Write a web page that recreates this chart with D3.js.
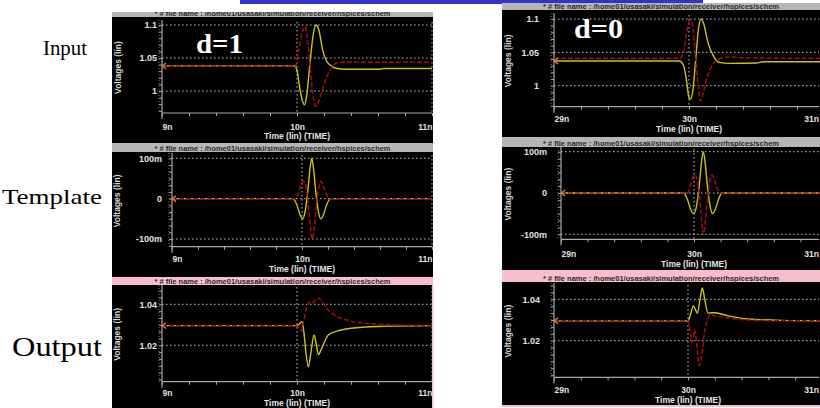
<!DOCTYPE html>
<html>
<head>
<meta charset="utf-8">
<script src="https://cdn.jsdelivr.net/npm/d3@7"></script>
<style>
  body { margin: 0; background: #fff; }
  svg { display: block; }
</style>
</head>
<body>
<svg width="820" height="408"></svg>
<script>
// ---- tick labels ----
var timeTicksD1 = [9, 10, 11];
var timeLabelsD1 = ["9n", "10n", "11n"];
var timeTicksD0 = [29, 30, 31];
var timeLabelsD0 = ["29n", "30n", "31n"];

var inputTicks = [1, 1.05, 1.1];
var inputTickLabels = ["1", "1.05", "1.1"];
var templateTicks = [-0.1, 0, 0.1];
var templateTickLabels = ["-100m", "0", "100m"];
var outputTicks = [1.02, 1.04];
var outputTickLabels = ["1.02", "1.04"];

// ---- d=1 column (time in ns, voltage in V) ----
var inD1YelT = [9, 9.98, 10.0, 10.02, 10.04, 10.055, 10.07, 10.095, 10.12, 10.14, 10.16, 10.19, 10.22, 10.26, 10.3, 10.35, 10.62, 10.64, 11];
var inD1YelV = [1.038, 1.038, 1.031, 1.005, 0.985, 0.979, 0.99, 1.04, 1.085, 1.1, 1.094, 1.062, 1.045, 1.037, 1.034, 1.033, 1.033, 1.034, 1.034];
var inD1RedT = [9, 9.99, 10.01, 10.04, 10.06, 10.08, 10.1, 10.12, 10.14, 10.17, 10.2, 10.24, 10.28, 10.32, 11];
var inD1RedV = [1.038, 1.038, 1.06, 1.09, 1.098, 1.075, 1.03, 0.99, 0.977, 0.99, 1.01, 1.03, 1.041, 1.0435, 1.0435];

var tmD1YelT = [9, 9.93, 9.96, 9.985, 10.005, 10.025, 10.045, 10.06, 10.075, 10.09, 10.105, 10.125, 10.145, 10.165, 10.19, 10.22, 11];
var tmD1YelV = [0, 0, -0.015, -0.04, -0.05, -0.03, 0.02, 0.07, 0.1, 0.07, 0.02, -0.03, -0.05, -0.04, -0.015, 0, 0];
var tmD1RedT = [9, 9.95, 9.975, 9.995, 10.01, 10.03, 10.05, 10.065, 10.08, 10.095, 10.11, 10.13, 10.145, 10.165, 10.185, 10.21, 11];
var tmD1RedV = [0, 0, 0.015, 0.038, 0.043, 0.03, -0.02, -0.07, -0.1, -0.07, -0.02, 0.03, 0.043, 0.03, 0.012, 0, 0];

var outD1YelT = [9, 9.985, 10.01, 10.035, 10.05, 10.065, 10.084, 10.1, 10.126, 10.142, 10.158, 10.18, 10.232, 10.3, 10.4, 10.6, 11];
var outD1YelV = [1.0296, 1.0296, 1.03, 1.0315, 1.027, 1.017, 1.0095, 1.015, 1.025, 1.021, 1.0155, 1.018, 1.025, 1.027, 1.0283, 1.0292, 1.0296];
var outD1RedT = [9, 9.985, 10.02, 10.035, 10.05, 10.07, 10.094, 10.112, 10.14, 10.158, 10.18, 10.22, 10.3, 10.4, 10.55, 10.8, 11];
var outD1RedV = [1.0296, 1.0296, 1.0282, 1.027, 1.032, 1.038, 1.041, 1.0405, 1.0425, 1.043, 1.042, 1.038, 1.034, 1.0318, 1.0305, 1.0298, 1.0296];

// ---- d=0 column ----
var inD0YelT = [29, 29.93, 29.96, 29.98, 30.0, 30.01, 30.03, 30.05, 30.07, 30.09, 30.11, 30.14, 30.18, 30.22, 30.3, 30.5, 30.55, 31];
var inD0YelV = [1.037, 1.037, 1.03, 1.01, 0.982, 0.98, 0.995, 1.04, 1.085, 1.1, 1.092, 1.065, 1.045, 1.035, 1.0335, 1.034, 1.036, 1.036];
var inD0RedT = [29, 29.93, 29.96, 29.98, 30.0, 30.01, 30.03, 30.05, 30.07, 30.085, 30.1, 30.13, 30.17, 30.22, 30.3, 30.4, 31];
var inD0RedV = [1.041, 1.041, 1.05, 1.075, 1.095, 1.098, 1.085, 1.04, 0.995, 0.977, 0.985, 1.01, 1.03, 1.04, 1.043, 1.042, 1.041];

var tmD0YelT = [29, 29.92, 29.95, 29.975, 30.0, 30.02, 30.04, 30.055, 30.07, 30.085, 30.1, 30.12, 30.138, 30.16, 30.185, 30.21, 31];
var tmD0YelV = [0, 0, -0.015, -0.04, -0.05, -0.03, 0.02, 0.07, 0.1, 0.07, 0.02, -0.03, -0.05, -0.04, -0.015, 0, 0];
var tmD0RedT = [29, 29.95, 29.975, 29.995, 30.005, 30.025, 30.045, 30.058, 30.07, 30.085, 30.1, 30.12, 30.135, 30.155, 30.175, 30.2, 31];
var tmD0RedV = [0, 0, 0.02, 0.042, 0.044, 0.03, -0.02, -0.07, -0.1, -0.07, -0.02, 0.03, 0.044, 0.03, 0.01, 0, 0];

var outD0YelT = [29, 30.0, 30.02, 30.04, 30.055, 30.07, 30.09, 30.107, 30.125, 30.15, 30.175, 30.2, 30.3, 30.45, 30.7, 31];
var outD0YelV = [1.0296, 1.0296, 1.033, 1.0368, 1.035, 1.0333, 1.04, 1.0455, 1.04, 1.0333, 1.0335, 1.0335, 1.032, 1.0305, 1.0298, 1.0296];
var outD0RedT = [29, 30.0, 30.015, 30.03, 30.04, 30.05, 30.065, 30.085, 30.1, 30.125, 30.15, 30.165, 30.2, 30.3, 30.45, 30.7, 31];
var outD0RedV = [1.0296, 1.0296, 1.025, 1.0193, 1.021, 1.0253, 1.018, 1.008, 1.012, 1.025, 1.031, 1.0327, 1.032, 1.031, 1.03, 1.0296, 1.0296];

var fileTitle = "* # file name : /home01/usasaki/simulation/receiver/hspices/schem";

var GREY = "#b6b6b6", PINK = "#f7bdcc";
var YEL = "#c8c41a", RED = "#a80c0c", AXIS = "#a8a8a8", GRID = "#c4c4c4";
var SANS = "Liberation Sans, Arial, sans-serif";

var svg = d3.select("svg");

// blue strip at the very top
svg.append("rect").attr("x", 240).attr("y", 0).attr("width", 463).attr("height", 4).attr("fill", "#3434c4");

var panels = [
  { bx: 112, bw: 321, barY: 12, barH: 5, by: 17, bh: 126, bar: GREY,
    t: timeTicksD1, tl: timeLabelsD1, xr: [162, 432],
    v: inputTicks, vl: inputTickLabels, yr: [91, 25], minor: 0.01,
    top: 22, bottom: 113, labX: 118, tickR: 157, labY: 129.5, timeY: 139,
    yel: [inD1YelT, inD1YelV], red: [inD1RedT, inD1RedV] },
  { bx: 112, bw: 321, barY: 143, barH: 9, by: 152, bh: 125, bar: GREY,
    t: timeTicksD1, tl: timeLabelsD1, xr: [172, 432],
    v: templateTicks, vl: templateTickLabels, yr: [239, 158.3], minor: 0.1 / 6,
    top: 155, bottom: 246.7, labX: 117, tickR: 162, labY: 262.5, timeY: 272,
    yel: [tmD1YelT, tmD1YelV], red: [tmD1RedT, tmD1RedV] },
  { bx: 112, bw: 321, barY: 277, barH: 8, by: 285, bh: 123, bar: PINK,
    t: timeTicksD1, tl: timeLabelsD1, xr: [162, 432],
    v: outputTicks, vl: outputTickLabels, yr: [345.3, 304.3], minor: 0.02 / 6,
    top: 287, bottom: 381.7, labX: 117, tickR: 157, labY: 396.5, timeY: 406,
    yel: [outD1YelT, outD1YelV], red: [outD1RedT, outD1RedV] },
  { bx: 502, bw: 318, barY: 3, barH: 7, by: 10, bh: 127, bar: GREY,
    t: timeTicksD0, tl: timeLabelsD0, xr: [554, 824],
    v: inputTicks, vl: inputTickLabels, yr: [85.7, 19], minor: 0.01,
    top: 15, bottom: 106.7, labX: 508, tickR: 539, labY: 122, timeY: 132,
    yel: [inD0YelT, inD0YelV], red: [inD0RedT, inD0RedV] },
  { bx: 502, bw: 318, barY: 137, barH: 10, by: 147, bh: 123, bar: GREY,
    t: timeTicksD0, tl: timeLabelsD0, xr: [561, 827],
    v: templateTicks, vl: templateTickLabels, yr: [234.3, 151.7], minor: 0.1 / 6,
    top: 149, bottom: 239.3, labX: 508, tickR: 547, labY: 257.5, timeY: 267,
    yel: [tmD0YelT, tmD0YelV], red: [tmD0RedT, tmD0RedV] },
  { bx: 502, bw: 318, barY: 270, barH: 12, by: 282, bh: 123, bar: PINK,
    t: timeTicksD0, tl: timeLabelsD0, xr: [554, 822],
    v: outputTicks, vl: outputTickLabels, yr: [340.7, 299.3], minor: 0.02 / 6,
    top: 285, bottom: 377.3, labX: 508, tickR: 540, labY: 393.5, timeY: 403,
    yel: [outD0YelT, outD0YelV], red: [outD0RedT, outD0RedV] }
];

var defs = svg.append("defs");

panels.forEach(function (p, k) {
  var x = d3.scaleLinear().domain([p.t[0], p.t[p.t.length - 1]]).range(p.xr);
  var y = d3.scaleLinear().domain([p.v[0], p.v[p.v.length - 1]]).range(p.yr);
  var x0 = p.xr[0], x1 = Math.min(p.xr[1], 819);
  var g = svg.append("g");

  // background + title bar
  g.append("rect").attr("x", p.bx).attr("y", p.by).attr("width", p.bw).attr("height", p.bh).attr("fill", "#000");
  g.append("rect").attr("x", p.bx).attr("y", p.barY).attr("width", p.bw).attr("height", p.barH).attr("fill", p.bar);
  defs.append("clipPath").attr("id", "bar" + k).append("rect")
    .attr("x", p.bx).attr("y", p.barY).attr("width", p.bw).attr("height", p.barH);
  g.append("text")
    .attr("clip-path", "url(#bar" + k + ")")
    .attr("x", p.bx + p.bw / 2).attr("y", p.barY + p.barH - 1)
    .attr("text-anchor", "middle")
    .attr("font-family", SANS).attr("font-weight", "bold")
    .attr("font-size", 7.5).attr("fill", "#2a2a2a")
    .attr("textLength", 236).attr("lengthAdjust", "spacingAndGlyphs")
    .text(fileTitle);

  // dotted grid
  g.selectAll(".hg").data(p.v).enter().append("line")
    .attr("x1", x0).attr("x2", x1)
    .attr("y1", function (d) { return y(d); }).attr("y2", function (d) { return y(d); })
    .attr("stroke", GRID).attr("stroke-dasharray", "1.5,2.5");
  g.selectAll(".vg").data(p.t.slice(1)).enter().append("line")
    .attr("x1", function (d) { return x(d); }).attr("x2", function (d) { return x(d); })
    .attr("y1", p.top).attr("y2", p.bottom)
    .attr("stroke", GRID).attr("stroke-dasharray", "1.5,2.5");

  // left axis: minor ticks, labels
  var lo = y.invert(p.bottom), hi = y.invert(p.top);
  var minorVals = d3.range(Math.ceil((lo - p.v[0]) / p.minor - 1e-6), Math.floor((hi - p.v[0]) / p.minor + 1e-6) + 1)
    .map(function (i) { return p.v[0] + i * p.minor; });
  var axL = g.append("g").attr("transform", "translate(" + x0 + ",0)")
    .call(d3.axisLeft(y).tickValues(minorVals).tickSize(3).tickFormat(""));
  axL.select(".domain").remove();
  axL.selectAll("line").attr("stroke", AXIS);
  var axL2 = g.append("g").attr("transform", "translate(" + x0 + ",0)")
    .call(d3.axisLeft(y).tickValues(p.v).tickSize(0).tickPadding(x0 - p.tickR)
      .tickFormat(function (d, i) { return p.vl[i]; }));
  axL2.select(".domain").remove();
  axL2.selectAll("text").attr("fill", "#e2e2e2").attr("font-weight", "bold")
    .attr("font-family", SANS).attr("font-size", 9);
  g.append("line").attr("x1", x0).attr("x2", x0).attr("y1", p.top - 2).attr("y2", p.bottom)
    .attr("stroke", AXIS).attr("stroke-width", 1.2);
  g.append("line").attr("x1", x0 - 3).attr("x2", x0 - 3).attr("y1", p.top - 2).attr("y2", p.bottom)
    .attr("stroke", "#777").attr("stroke-dasharray", "1,2");

  // bottom axis
  var minorT = d3.range(0, 11).map(function (i) { return p.t[0] + i * 0.2; });
  var axB = g.append("g").attr("transform", "translate(0," + p.bottom + ")")
    .call(d3.axisBottom(x).tickValues(minorT).tickSize(3).tickFormat(""));
  axB.select(".domain").remove();
  axB.selectAll("line").attr("stroke", AXIS);
  g.append("line").attr("x1", x0).attr("x2", x1).attr("y1", p.bottom).attr("y2", p.bottom)
    .attr("stroke", AXIS).attr("stroke-width", 1.2);
  g.append("line").attr("x1", x0).attr("x2", x0).attr("y1", p.bottom).attr("y2", p.bottom + 6)
    .attr("stroke", AXIS).attr("stroke-width", 1.2);
  var axB2 = g.append("g").attr("transform", "translate(0," + p.bottom + ")")
    .call(d3.axisBottom(x).tickValues(p.t).tickSize(0).tickFormat(function (d, i) { return p.tl[i]; }));
  axB2.select(".domain").remove();
  axB2.selectAll("text")
    .attr("y", p.labY - p.bottom).attr("dy", null)
    .attr("text-anchor", function (d, i) { return i === 0 ? "start" : (i === 2 ? "end" : "middle"); })
    .attr("fill", "#e2e2e2").attr("font-weight", "bold")
    .attr("font-family", SANS).attr("font-size", 8.5);
  // keep the last label inside the picture
  axB2.selectAll(".tick").filter(function (d, i) { return i === 2 && x(d) > 819; })
    .attr("transform", "translate(819,0)");

  g.append("text").attr("x", x(p.t[1])).attr("y", p.timeY).attr("text-anchor", "middle")
    .attr("fill", "#e2e2e2").attr("font-weight", "bold")
    .attr("font-family", SANS).attr("font-size", 8.5)
    .text("Time (lin) (TIME)");
  g.append("text")
    .attr("transform", "translate(" + (p.labX + 3) + "," + ((p.top + p.bottom) / 2) + ") rotate(-90)")
    .attr("text-anchor", "middle")
    .attr("fill", "#d8d8d8").attr("font-weight", "bold")
    .attr("font-family", SANS).attr("font-size", 8.5)
    .text("Voltages (lin)");

  // curves
  defs.append("clipPath").attr("id", "plot" + k).append("rect")
    .attr("x", x0).attr("y", p.top - 4).attr("width", p.xr[1] - x0).attr("height", p.bottom - p.top + 4);
  var line = d3.line()
    .x(function (d) { return x(d[0]); }).y(function (d) { return y(d[1]); })
    .curve(d3.curveMonotoneX);
  var cg = g.append("g").attr("clip-path", "url(#plot" + k + ")");
  cg.append("path").datum(d3.zip(p.yel[0], p.yel[1])).attr("d", line)
    .attr("fill", "none").attr("stroke", YEL).attr("stroke-width", 1.4);
  cg.append("path").datum(d3.zip(p.red[0], p.red[1])).attr("d", line)
    .attr("fill", "none").attr("stroke", RED).attr("stroke-width", 1.5).attr("stroke-dasharray", "5,2");

  // start markers
  var y0 = y(p.yel[1][0]);
  g.append("path").attr("d", "M" + (x0 + 4) + "," + (y0 - 3) + "L" + (x0 + 0.5) + "," + y0 + "L" + (x0 + 4) + "," + (y0 + 3))
    .attr("fill", "none").attr("stroke", "#f08030").attr("stroke-width", 1.3);
});

// pink edges
svg.append("rect").attr("x", 502).attr("y", 405).attr("width", 318).attr("height", 2).attr("fill", PINK);
svg.append("rect").attr("x", 432).attr("y", 285).attr("width", 1.5).attr("height", 123).attr("fill", PINK);

// row labels and d labels
var serif = "Liberation Serif, Times New Roman, serif";
svg.append("text").attr("x", 43).attr("y", 55).attr("font-family", serif).attr("font-size", 20)
  .attr("textLength", 44).attr("lengthAdjust", "spacingAndGlyphs").text("Input");
svg.append("text").attr("x", 2).attr("y", 204).attr("font-family", serif).attr("font-size", 22)
  .attr("textLength", 100).attr("lengthAdjust", "spacingAndGlyphs").text("Template");
svg.append("text").attr("x", 12).attr("y", 356).attr("font-family", serif).attr("font-size", 27)
  .attr("textLength", 90).attr("lengthAdjust", "spacingAndGlyphs").text("Output");
svg.append("text").attr("x", 196).attr("y", 53).attr("font-family", serif).attr("font-size", 27)
  .attr("font-weight", "bold").attr("fill", "#fff").attr("textLength", 47).attr("lengthAdjust", "spacingAndGlyphs").text("d=1");
svg.append("text").attr("x", 574).attr("y", 38).attr("font-family", serif).attr("font-size", 27)
  .attr("font-weight", "bold").attr("fill", "#fff").attr("textLength", 49).attr("lengthAdjust", "spacingAndGlyphs").text("d=0");
</script>
</body>
</html>
